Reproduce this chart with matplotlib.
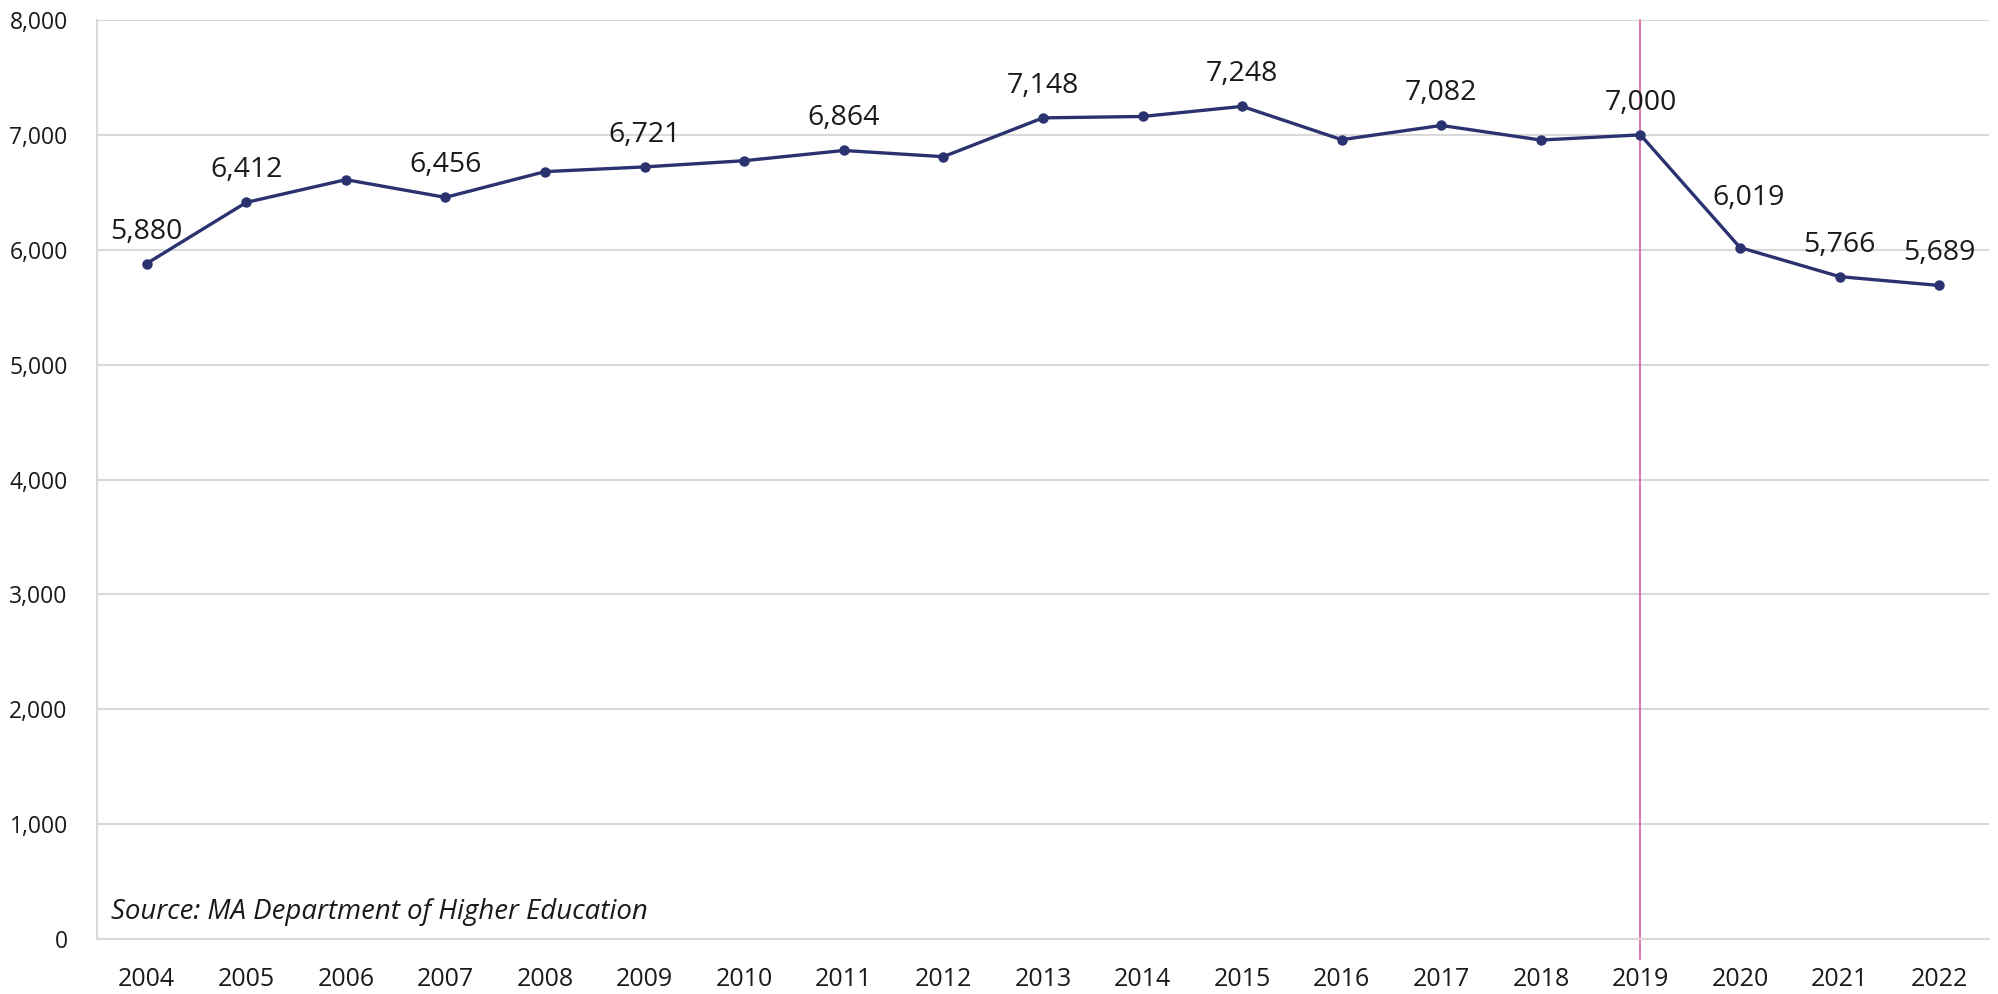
import matplotlib.pyplot as plt
from matplotlib.ticker import FuncFormatter

plt.rcParams['font.family'] = ['Open Sans', 'DejaVu Sans']

years = [str(y) for y in range(2004, 2023)]
values = [5880, 6412, 6610, 6456, 6680, 6721, 6775, 6864, 6810, 7148,
          7160, 7248, 6958, 7082, 6955, 7000, 6019, 5766, 5689]
labelled = ['2004', '2005', '2007', '2009', '2011', '2013', '2015', '2017',
            '2019', '2020', '2021', '2022']
marker_year = '2019'

line_color = '#2b3270'
grid_color = '#d9d9d9'
pink = '#d4509a'

# label offsets (points); 2020 label sits higher so it clears the drop
label_offset = {'2020': (6, 31)}

fig = plt.figure(figsize=(19.98, 9.94), dpi=100)
ax = fig.add_axes([0.0485, 0.0553, 0.947, 0.9246])

x = list(range(len(years)))
ax.plot(x, values, color=line_color, lw=2.4, marker='o', ms=6.5, zorder=3)

for i, (yr, v) in enumerate(zip(years, values)):
    if yr in labelled:
        ax.annotate(f'{v:,}', (i, v), xytext=label_offset.get(yr, (0, 18)),
                    textcoords='offset points', ha='center', va='baseline',
                    fontsize=20.5, color='#1a1a1a')

ax.axvline(years.index(marker_year), ymin=-0.022, ymax=1, color=pink, lw=1.1,
           clip_on=False, zorder=2)

ax.set_xlim(-0.5, len(years) - 0.5)
ax.set_ylim(0, 8000)
ax.set_xticks(x)
ax.set_xticklabels(years)
ax.set_yticks(range(0, 8001, 1000))
ax.yaxis.set_major_formatter(FuncFormatter(lambda v, p: f'{int(v):,}'))
ax.tick_params(axis='x', length=0, pad=20, labelsize=18, labelcolor='#1a1a1a')
ax.tick_params(axis='y', length=0, pad=21, labelsize=16.5, labelcolor='#1a1a1a')

ax.grid(axis='y', color=grid_color, lw=1.5)
ax.set_axisbelow(True)
for s in ['top', 'right']:
    ax.spines[s].set_visible(False)
for s in ['left', 'bottom']:
    ax.spines[s].set_color(grid_color)
    ax.spines[s].set_linewidth(1.5)

ax.text(0.0075, 0.014, 'Source: MA Department of Higher Education', transform=ax.transAxes,
        fontsize=19.9, style='italic', color='#1a1a1a', ha='left', va='bottom')

fig.savefig('out.png', dpi=100)
